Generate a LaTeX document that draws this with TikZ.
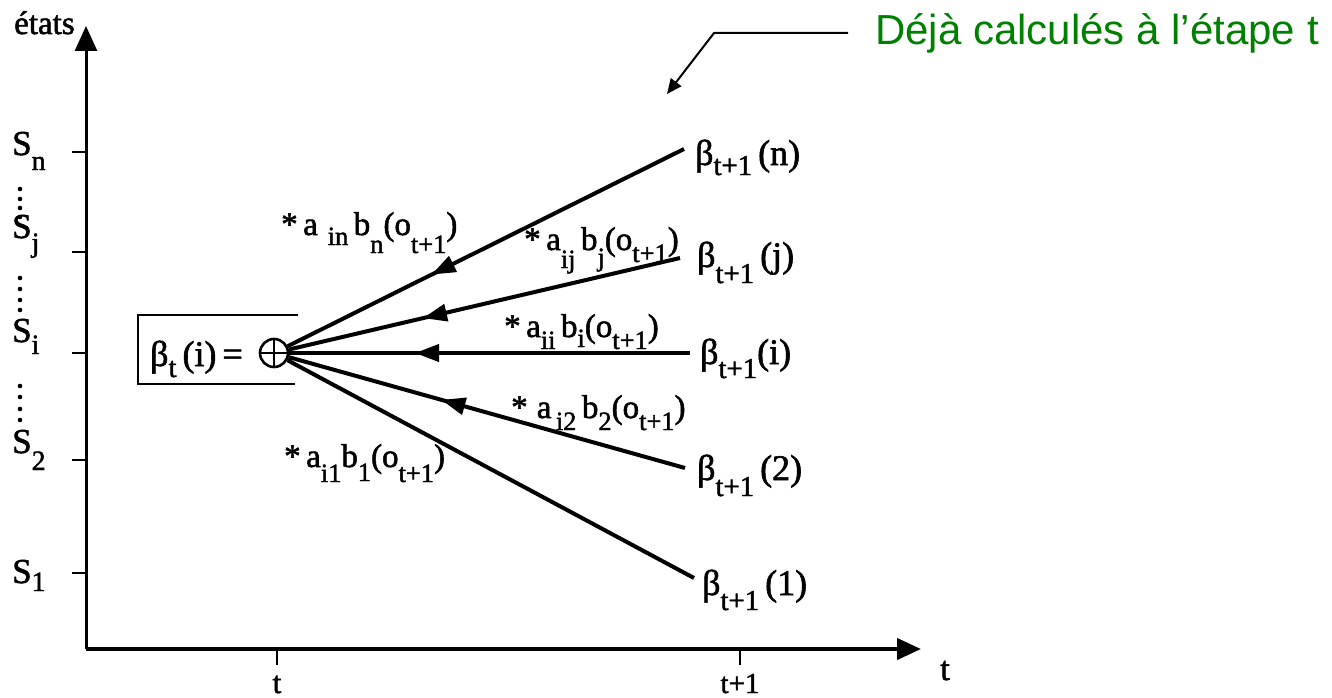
\documentclass[tikz,border=0pt]{standalone}
\usepackage{fontspec}
\usepackage{graphicx}
\setmainfont{Liberation Serif}[FakeBold=1.6]
\newfontfamily\greenfont{Liberation Sans}
\usetikzlibrary{arrows.meta,decorations.markings}
\definecolor{callgreen}{RGB}{0,128,0}
\newcommand\lo[2][10pt]{\raisebox{-#1}{\scalebox{0.8}{#2}}}
\begin{document}
\begin{tikzpicture}[x=1pt,y=-1pt,
  axis/.style={line width=3pt},
  tick/.style={line width=2.5pt},
  conn/.style={line width=4pt},
  midarrow/.style={postaction={decorate},decoration={markings,
      mark=at position #1 with {\arrow{Triangle[length=24pt,width=17pt]}}}},
  slab/.style={anchor=base west,inner sep=0pt,font=\fontsize{35}{37}\selectfont},
  blab/.style={anchor=base west,inner sep=0pt,font=\fontsize{36}{38}\selectfont},
  wlab/.style={anchor=base west,inner sep=0pt,font=\fontsize{33}{35}\selectfont},
  dotm/.style={fill=black}]
\useasboundingbox (0,0) rectangle (1332,698);

% axes
\coordinate (O) at (86,649);
\coordinate (ytop) at (86,26);
\coordinate (xend) at (921,649);
\draw[axis,-{Triangle[length=25pt,width=22pt]}] (O) -- (ytop);
\draw[line width=4pt,-{Triangle[length=24pt,width=21pt]}] (O) -- (xend);
\node[anchor=base west,inner sep=0pt,font=\fontsize{33}{34}\selectfont] (etats) at (14,34) {états};
\node[anchor=base,inner sep=0pt,font=\fontsize{34}{36}\selectfont] (tlab) at (945,680) {t};

% y ticks
\foreach \yy/\nm in {152/n,252/j,353/i,460/2,573/1}{
  \coordinate (tk\nm) at (72,\yy);
  \coordinate (ax\nm) at (86,\yy);
  \draw[tick] (tk\nm) -- (ax\nm);
}
\node[slab] (Sn) at (12,155) {S\lo[15pt]{n}};
\node[slab] (Sj) at (12,238) {S\lo[14pt]{j}};
\node[slab] (Si) at (12,342) {S\lo[12pt]{i}};
\node[slab] (S2) at (12,453) {S\lo[17pt]{2}};
\node[slab] (S1) at (12,583) {S\lo[8pt]{1}};
\foreach \yy in {189,199,208,217, 278,289,300,310, 386,397,409,420}{
  \fill[dotm] (20,\yy) circle (2.3pt);
}

% x ticks
\coordinate (xt1) at (277,649);
\coordinate (xt1b) at (277,665);
\coordinate (xt2) at (740,649);
\coordinate (xt2b) at (740,665);
\draw[tick] (xt1) -- (xt1b);
\draw[tick] (xt2) -- (xt2b);
\node[anchor=base,inner sep=0pt,font=\fontsize{31}{33}\selectfont] (tt) at (277,693) {t};
\node[anchor=base,inner sep=0pt,font=\fontsize{29}{31}\selectfont] (tt1) at (740,693) {t+1};

% box
\coordinate (bx1) at (298,315);
\coordinate (bx2) at (138,315);
\coordinate (bx3) at (138,384);
\coordinate (bx4) at (295,384);
\draw[line width=2.8pt] (bx1) -- (bx2) -- (bx3) -- (bx4);
\node[blab] (bt) at (150,366) {β\lo[11pt]{t}\,(i)\,=};
\node[circle,draw,line width=2.6pt,minimum size=28pt,inner sep=0pt] (plus) at (274,353) {};
\draw[line width=2.4pt] (plus.north) -- (plus.south);
\draw[line width=2.4pt] (plus.west) -- (plus.east);

% connector ends
\coordinate (en) at (684,149);
\coordinate (ej) at (680,258);
\coordinate (ei) at (690,353);
\coordinate (e2) at (685,468);
\coordinate (e1) at (694,578);
\draw[conn,midarrow=282pt] (en) -- (plus);
\draw[conn,midarrow=264pt] (ej) -- (plus);
\draw[conn,midarrow=275pt] (ei) -- (plus);
\draw[conn,midarrow=253pt] (e2) -- (plus);
\draw[conn] (e1) -- (plus);

% right labels
\node[blab] (bn) at (695,165) {β\lo{t+1}\,(n)};
\node[blab] (bj) at (697,267) {β\lo[16pt]{t+1}\,(j)};
\node[blab] (bi) at (700,364) {β\lo[14pt]{t+1}(i)};
\node[blab] (b2) at (697,480) {β\lo[16pt]{t+1}\,(2)};
\node[blab] (b1) at (702,595) {β\lo[15pt]{t+1}\,(1)};

% weight labels
\node[wlab] (wn) at (281,235) {*\,a\,\lo{\,in}\,b\lo[18pt]{n}(o\lo[18pt]{t+1})};
\node[wlab] (wj) at (524,250) {*\,a\lo[18pt]{ij}\,b\lo[16pt]{j}(o\lo[12pt]{t+1})};
\node[wlab] (wi) at (504,337) {*\,a\lo[12pt]{ii}\,b\lo[10pt]{i}(o\lo[12pt]{t+1})};
\node[wlab] (w2) at (511,418) {*\;a\lo[12pt]{\,i2}\,b\lo[12pt]{2}(o\lo[12pt]{t+1})};
\node[wlab] (w1) at (284,467) {*\,a\lo[15pt]{i1}b\lo[14pt]{1}(o\lo[15pt]{t+1})};

% callout
\node[anchor=west,inner sep=0pt,text=callgreen,font=\greenfont\fontsize{42}{44}\selectfont] (note) at (875,33) {Déjà calculés à l’étape t};
\coordinate (c1) at (848,33);
\coordinate (c2) at (714,33);
\coordinate (c3) at (667,94);
\draw[line width=2pt,-{Triangle[length=15pt,width=13pt]}] (c1) -- (c2) -- (c3);
\end{tikzpicture}
\end{document}
